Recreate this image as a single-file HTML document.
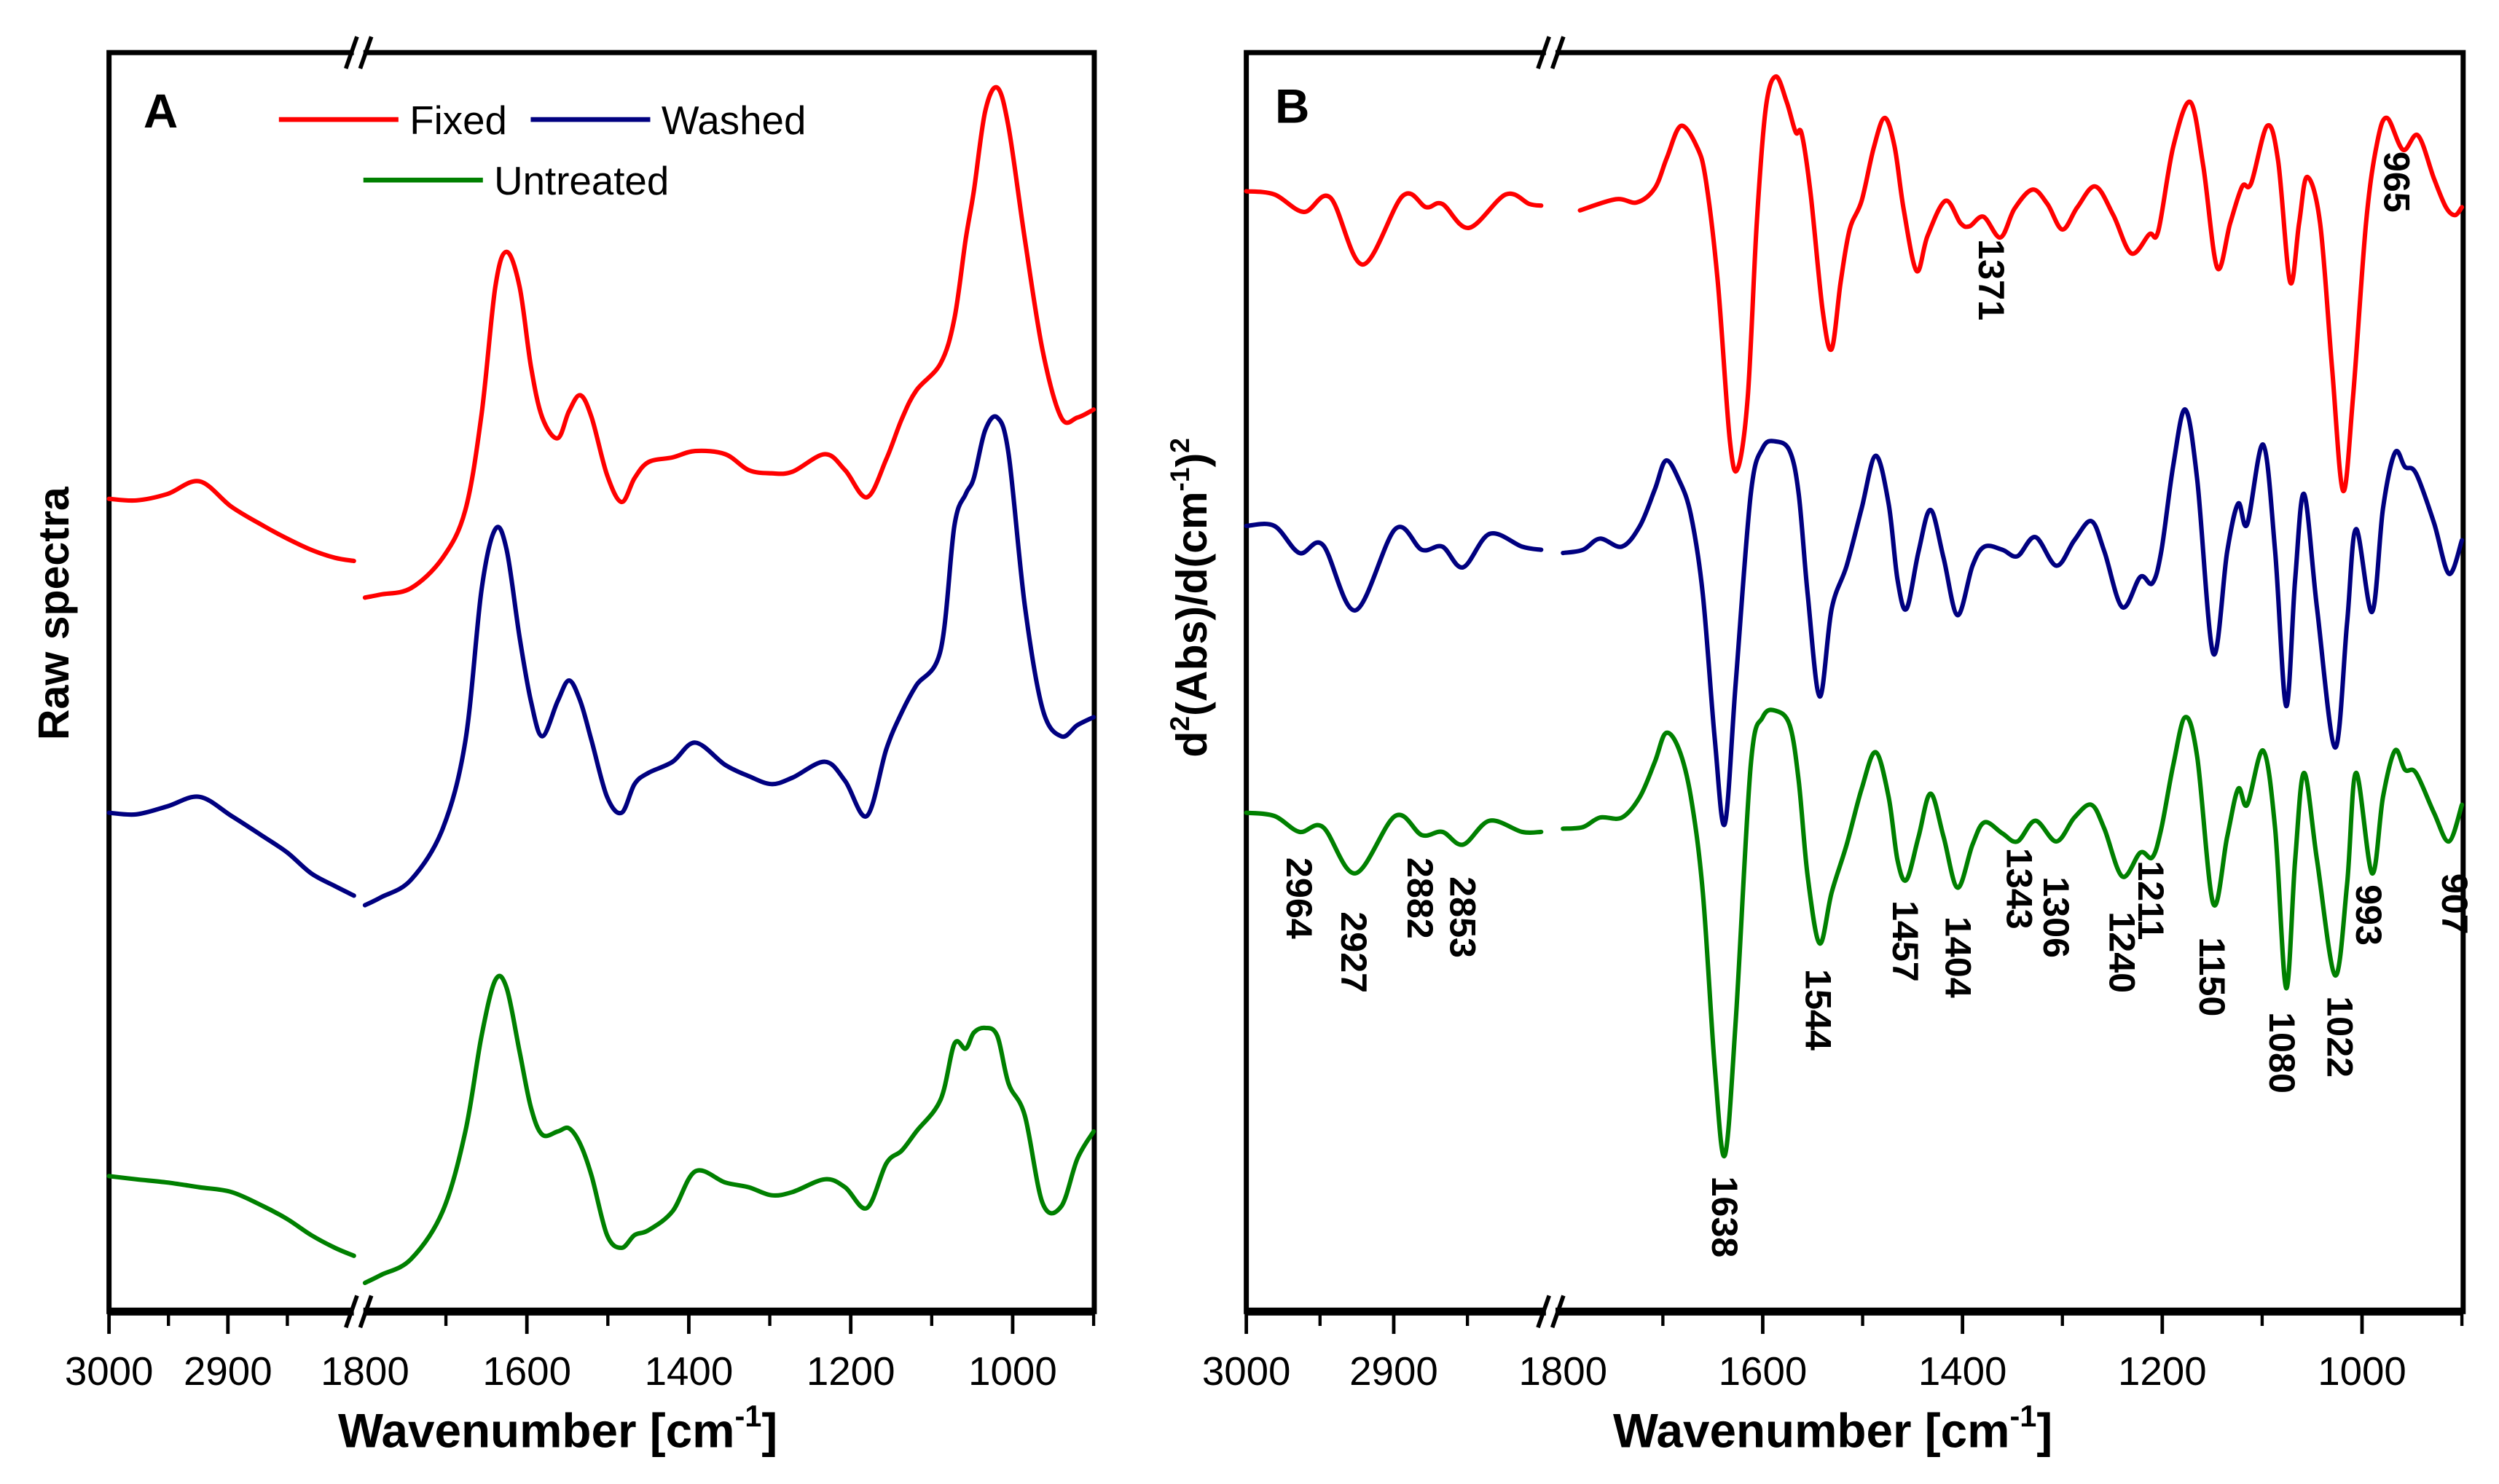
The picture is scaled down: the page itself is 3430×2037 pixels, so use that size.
<!DOCTYPE html>
<html><head><meta charset="utf-8"><style>
html,body{margin:0;padding:0;background:#fff;}
svg{display:block;}
text{font-family:"Liberation Sans",Arial,sans-serif;}
</style></head><body>
<svg id="fig" xmlns="http://www.w3.org/2000/svg" width="3430" height="2037" viewBox="0 0 1568 931.2">
<rect x="0" y="0" width="1568" height="931.2" fill="#fff"/>
<g id="gA"></g>
<g id="gB"></g>
</svg>
<script>
// ---------- Panel A data (raw spectra) ----------
const aLeftWn = [3000,2977,2951,2924,2897,2870,2850,2830,2810,2794];
const aFixedLeft = [510,509,513,521,505,493,485,478,473,471];
const aWashedLeft = [313,312,317,323,311,298,288,275,267,261];
const aUntreatedLeft = [85,83,81,78,75,66,58,48,40,35];
const aRightWn = [1800,1780,1743,1704,1676,1656,1639,1625,1609,1595,1581,1562,1548,1534,1520,1501,1483,1467,1450,1420,1392,1355,1326,1298,1272,1232,1207,1180,1156,1137,1119,1089,1072,1058,1048,1034,1019,1005,985,963,940,920,900];
const aFixedRight = [448,450,454,473,503,563,643,665,643,593,561,548,565,575,561,525,508,523,533,536,540,538,528,526,527,538,528,511,535,560,578,595,623,673,703,753,768,743,673,603,561,561,566];
const aWashedRight = [255,260,271,303,358,453,491,478,423,383,361,383,396,383,358,323,313,331,338,345,357,343,336,331,335,345,333,311,353,376,393,415,493,513,523,553,561,538,443,378,361,368,373];
const aUntreatedRight = [18,23,33,63,113,173,208,203,163,128,111,113,115,105,85,48,40,48,51,63,88,81,78,73,75,83,78,65,93,101,113,133,168,165,175,178,173,143,123,68,66,96,113];
const aTickLabels = ["3000","2900","1800","1600","1400","1200","1000"];
const aTickValues = [3000,2900,1800,1600,1400,1200,1000];
const aMajorTicks = [3000,2900,1600,1400,1200,1000];
const aMinorTicks = [2950,2850,1700,1500,1300,1100,900];

// ---------- Panel B data (second derivative) ----------
const bRedLeftWn = [3000,2981,2961,2943,2921,2894,2878,2867,2849,2824,2808,2800];
const bFixedLeft = [703,701,690,699,657,700,693,695,680,701,695,694];
const bLeftWn = [3000,2981,2964,2948,2926,2899,2881,2867,2853,2835,2813,2800];
const bWashedLeft = [493,493,476,481,440,491,478,480,467,488,480,478];
const bUntreatedLeft = [313,311,301,304,275,311,299,301,293,308,301,301];
const bRedRightWn = [1783,1747,1726,1708,1696,1682,1666,1657,1645,1633,1625,1615,1606,1597,1587,1576,1567,1561,1552,1540,1531,1522,1513,1501,1489,1478,1468,1459,1446,1435,1417,1402,1393,1379,1362,1348,1330,1315,1300,1285,1267,1249,1231,1213,1204,1189,1172,1159,1145,1132,1120,1111,1095,1084,1072,1063,1055,1042,1030,1019,1009,996,985,975,959,944,928,916,907,900];
const bFixedRight = [691,698,696,705,724,744,731,710,646,547,529,574,683,755,775,759,740,739,701,628,604,646,679,697,730,749,731,692,653,675,697,683,681,687,674,692,704,695,679,693,706,688,664,676,678,731,759,719,655,683,706,708,744,722,646,683,712,683,592,515,574,683,733,749,729,738,711,693,688,693];
const bRightWn = [1800,1780,1763,1741,1723,1708,1697,1684,1672,1660,1648,1638,1627,1612,1600,1587,1573,1564,1555,1543,1531,1516,1501,1487,1474,1465,1456,1444,1432,1419,1405,1390,1378,1360,1345,1327,1306,1288,1271,1258,1240,1222,1210,1201,1189,1177,1165,1149,1135,1124,1115,1099,1087,1076,1067,1058,1045,1027,1015,1006,990,979,967,957,946,928,913,900];
const bWashedRight = [476,478,485,480,493,516,534,522,500,450,359,306,395,513,542,546,540,513,450,386,441,468,504,537,507,459,441,477,503,473,437,468,480,478,474,486,468,484,496,477,442,461,457,477,531,566,522,413,477,507,494,544,477,380,459,513,441,354,432,491,439,504,539,530,526,495,463,484];
const bUntreatedRight = [303,304,310,310,323,345,363,353,323,263,153,98,183,343,373,377,368,333,273,231,263,293,328,351,323,283,271,298,325,298,266,293,307,300,295,308,295,310,318,303,273,288,285,303,343,373,348,256,298,328,318,352,303,203,283,338,283,211,268,338,275,323,352,340,338,313,295,318];
const bPeakLabels = ["2964","2927","2882","2853","1638","1544","1457","1404","1343","1306","1240","1211","1150","1080","1022","993","907"];
const bPeakWn = [2964,2927,2882,2853,1638,1544,1457,1404,1343,1306,1240,1211,1150,1080,1022,993,907];
const bPeakTop = [538,572,538,550,738,608,565,575,532,550,572,540,588,635,625,555,548];
const bRedLabels = ["1371","965"];
const bRedLabelWn = [1371,965];
const bRedLabelTop = [150,95];
const bTickLabels = ["3000","2900","1800","1600","1400","1200","1000"];
const bTickValues = [3000,2900,1800,1600,1400,1200,1000];
const bMajorTicks = [3000,2900,1600,1400,1200,1000];
const bMinorTicks = [2950,2850,1700,1500,1300,1100,900];

const NS = "http://www.w3.org/2000/svg";
const RED = "#ff0000", NAVY = "#000080", GREEN = "#008000";
const FRAME_TOP = 33, FRAME_BOT = 823;

function yS(v){ return FRAME_BOT - v; }
function xA(w){ return w >= 2700 ? 68.4 + (3000 - w) * 0.746 : 229 + (1800 - w) * 0.508; }
function xB(w){ return w >= 2700 ? 782 + (3000 - w) * 0.925 : 980.7 + (1800 - w) * 0.6267; }

function mk(tag, attrs, parent){
  const e = document.createElementNS(NS, tag);
  for (const k in attrs) e.setAttribute(k, attrs[k]);
  parent.appendChild(e);
  return e;
}
function smoothPath(pts){
  let d = "M" + pts[0][0].toFixed(2) + "," + pts[0][1].toFixed(2);
  for (let i = 0; i < pts.length - 1; i++){
    const p0 = pts[i-1] || pts[i], p1 = pts[i], p2 = pts[i+1], p3 = pts[i+2] || p2;
    const c1x = p1[0] + (p2[0]-p0[0])/6, c1y = p1[1] + (p2[1]-p0[1])/6;
    const c2x = p2[0] - (p3[0]-p1[0])/6, c2y = p2[1] - (p3[1]-p1[1])/6;
    d += " C" + c1x.toFixed(2)+","+c1y.toFixed(2)+" "+c2x.toFixed(2)+","+c2y.toFixed(2)+" "+p2[0].toFixed(2)+","+p2[1].toFixed(2);
  }
  return d;
}
function drawSeries(g, xf, wn, vals, color, name){
  const pts = wn.map((w,i)=>[xf(w), yS(vals[i])]);
  const p = mk("path", {d: smoothPath(pts), fill:"none", stroke:color, "stroke-width":"2.8", "stroke-linejoin":"round", "stroke-linecap":"round"}, g);
  
  
}
function drawFrame(g, left, right, brk, xf, majors, minors, labels, labelVals, pfx){
  const r = mk("rect", {x:left, y:FRAME_TOP, width:right-left, height:FRAME_BOT-FRAME_TOP, fill:"none", stroke:"#000", "stroke-width":"3.2"}, g);
  
  
  const bx = mk("line", {x1:left, y1:FRAME_BOT, x2:right, y2:FRAME_BOT, stroke:"#000", "stroke-width":"5"}, g);
  
  
  majors.forEach(w=>{
    const t = mk("line", {x1:xf(w), y1:FRAME_BOT, x2:xf(w), y2:FRAME_BOT+14, stroke:"#000", "stroke-width":"2.2"}, g);
    
    
  });
  minors.forEach(w=>{
    const t = mk("line", {x1:xf(w), y1:FRAME_BOT, x2:xf(w), y2:FRAME_BOT+9, stroke:"#000", "stroke-width":"2"}, g);
    
    
  });
  labels.forEach((s,i)=>{
    const t = mk("text", {x:xf(labelVals[i]), y:FRAME_BOT+46, "text-anchor":"middle", "font-size":"25", fill:"#000"}, g);
    t.textContent = s;
    
    
  });
  [FRAME_TOP, FRAME_BOT].forEach(yy=>{
    mk("rect", {x:brk-3, y:yy-4, width:6, height:8, fill:"#fff"}, g);
    const b1 = mk("line", {x1:brk-8, y1:yy+10, x2:brk-1, y2:yy-10, stroke:"#000", "stroke-width":"2.6"}, g);
    
    
    const b2 = mk("line", {x1:brk+1, y1:yy+10, x2:brk+8, y2:yy-10, stroke:"#000", "stroke-width":"2.6"}, g);
    
    
  });
}
function txt(g, s, attrs, name){
  const t = mk("text", attrs, g);
  t.textContent = s;
  
  
  return t;
}

// ----- Panel A -----
const gA = document.getElementById("gA");
drawFrame(gA, 68.4, 686.6, 225, xA, aMajorTicks, aMinorTicks, aTickLabels, aTickValues, "panel-a");
drawSeries(gA, xA, aLeftWn, aFixedLeft, RED, "fixed-spectrum-high");
drawSeries(gA, xA, aRightWn, aFixedRight, RED, "fixed-spectrum");
drawSeries(gA, xA, aLeftWn, aWashedLeft, NAVY, "washed-spectrum-high");
drawSeries(gA, xA, aRightWn, aWashedRight, NAVY, "washed-spectrum");
drawSeries(gA, xA, aLeftWn, aUntreatedLeft, GREEN, "untreated-spectrum-high");
drawSeries(gA, xA, aRightWn, aUntreatedRight, GREEN, "untreated-spectrum");
txt(gA, "A", {x:90, y:80, "font-size":"30", "font-weight":"bold"}, "panel-a-label");
const lg = [[175,75,RED,"Fixed"],[333,75,NAVY,"Washed"],[228,113,GREEN,"Untreated"]];
lg.forEach(e=>{
  const l = mk("line", {x1:e[0], y1:e[1], x2:e[0]+75, y2:e[1], stroke:e[2], "stroke-width":"3"}, gA);
  
  
  txt(gA, e[3], {x:e[0]+82, y:e[1]+9, "font-size":"25"}, "legend-entry");
});
txt(gA, "Raw spectra", {x:0, y:0, transform:"translate(43,385) rotate(-90)", "text-anchor":"middle", "font-size":"27", "font-weight":"bold"}, "panel-a-y-axis-title");
const xtA = txt(gA, "", {x:350, y:908, "text-anchor":"middle", "font-size":"30", "font-weight":"bold"}, "panel-a-x-axis-title");
xtA.innerHTML = 'Wavenumber [cm<tspan dy="-13" font-size="19">-1</tspan><tspan dy="13">]</tspan>';

// ----- Panel B -----
const gB = document.getElementById("gB");
drawFrame(gB, 782, 1545.5, 973, xB, bMajorTicks, bMinorTicks, bTickLabels, bTickValues, "panel-b");
drawSeries(gB, xB, bRedLeftWn, bFixedLeft, RED, "fixed-derivative-high");
drawSeries(gB, xB, bRedRightWn, bFixedRight, RED, "fixed-derivative");
drawSeries(gB, xB, bLeftWn, bWashedLeft, NAVY, "washed-derivative-high");
drawSeries(gB, xB, bRightWn, bWashedRight, NAVY, "washed-derivative");
drawSeries(gB, xB, bLeftWn, bUntreatedLeft, GREEN, "untreated-derivative-high");
drawSeries(gB, xB, bRightWn, bUntreatedRight, GREEN, "untreated-derivative");
txt(gB, "B", {x:800, y:77, "font-size":"30", "font-weight":"bold"}, "panel-b-label");
bPeakLabels.forEach((s,i)=>{
  txt(gB, s, {x:0, y:0, transform:"translate("+(xB(bPeakWn[i])-8)+","+bPeakTop[i]+") rotate(90)", "font-size":"23", "font-weight":"bold"}, "peak-label");
});
bRedLabels.forEach((s,i)=>{
  txt(gB, s, {x:0, y:0, transform:"translate("+(xB(bRedLabelWn[i])-8)+","+bRedLabelTop[i]+") rotate(90)", "font-size":"23", "font-weight":"bold"}, "peak-label");
});
const ytB = txt(gB, "", {x:0, y:0, transform:"translate(757,375) rotate(-90)", "text-anchor":"middle", "font-size":"27", "font-weight":"bold"}, "panel-b-y-axis-title");
ytB.innerHTML = 'd<tspan dy="-11" font-size="17">2</tspan><tspan dy="11">(Abs)/d(cm</tspan><tspan dy="-11" font-size="17">-1</tspan><tspan dy="11">)</tspan><tspan dy="-11" font-size="17">2</tspan>';
const xtB = txt(gB, "", {x:1150, y:908, "text-anchor":"middle", "font-size":"30", "font-weight":"bold"}, "panel-b-x-axis-title");
xtB.innerHTML = 'Wavenumber [cm<tspan dy="-13" font-size="19">-1</tspan><tspan dy="13">]</tspan>';
</script>
</body></html>
